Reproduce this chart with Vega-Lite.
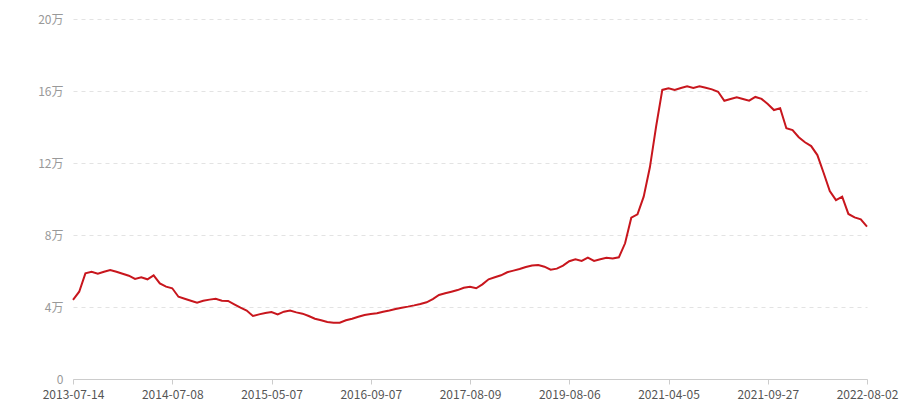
{
  "$schema": "https://vega.github.io/schema/vega-lite/v6.json",
  "width": 794,
  "height": 360,
  "autosize": {"type": "none"},
  "padding": {"left": 73, "top": 19, "right": 33, "bottom": 21},
  "background": "#ffffff",
  "config": {
    "view": {"stroke": null},
    "font": "Noto Sans CJK SC"
  },
  "data": {
    "values": [
      {"date": "2013-07-14", "value": 44000},
      {"date": "2013-08-05", "value": 48500},
      {"date": "2013-08-27", "value": 58700},
      {"date": "2013-09-18", "value": 59600},
      {"date": "2013-10-10", "value": 58500},
      {"date": "2013-11-01", "value": 59600},
      {"date": "2013-11-23", "value": 60600},
      {"date": "2013-12-15", "value": 59600},
      {"date": "2014-01-06", "value": 58500},
      {"date": "2014-01-28", "value": 57400},
      {"date": "2014-02-19", "value": 55600},
      {"date": "2014-03-13", "value": 56500},
      {"date": "2014-04-04", "value": 55400},
      {"date": "2014-04-26", "value": 57600},
      {"date": "2014-05-18", "value": 53100},
      {"date": "2014-06-10", "value": 51300},
      {"date": "2014-07-08", "value": 50400},
      {"date": "2014-07-27", "value": 45700},
      {"date": "2014-08-15", "value": 44600},
      {"date": "2014-09-03", "value": 43500},
      {"date": "2014-09-22", "value": 42400},
      {"date": "2014-10-11", "value": 43500},
      {"date": "2014-10-30", "value": 44100},
      {"date": "2014-11-18", "value": 44600},
      {"date": "2014-12-07", "value": 43500},
      {"date": "2014-12-26", "value": 43400},
      {"date": "2015-01-14", "value": 41500},
      {"date": "2015-02-02", "value": 39600},
      {"date": "2015-02-21", "value": 38000},
      {"date": "2015-03-12", "value": 35000},
      {"date": "2015-03-31", "value": 35900},
      {"date": "2015-04-19", "value": 36700},
      {"date": "2015-05-07", "value": 37200},
      {"date": "2015-06-07", "value": 35900},
      {"date": "2015-07-08", "value": 37400},
      {"date": "2015-08-08", "value": 38000},
      {"date": "2015-09-08", "value": 37000},
      {"date": "2015-10-09", "value": 36300},
      {"date": "2015-11-09", "value": 35000},
      {"date": "2015-12-10", "value": 33500},
      {"date": "2016-01-10", "value": 32600},
      {"date": "2016-02-10", "value": 31700},
      {"date": "2016-03-12", "value": 31300},
      {"date": "2016-04-12", "value": 31300},
      {"date": "2016-05-13", "value": 32600},
      {"date": "2016-06-13", "value": 33500},
      {"date": "2016-07-14", "value": 34600},
      {"date": "2016-08-14", "value": 35600},
      {"date": "2016-09-07", "value": 36100},
      {"date": "2016-09-28", "value": 36500},
      {"date": "2016-10-19", "value": 37400},
      {"date": "2016-11-09", "value": 38100},
      {"date": "2016-11-30", "value": 38900},
      {"date": "2016-12-21", "value": 39600},
      {"date": "2017-01-11", "value": 40200},
      {"date": "2017-02-01", "value": 40900},
      {"date": "2017-02-22", "value": 41700},
      {"date": "2017-03-15", "value": 42600},
      {"date": "2017-04-05", "value": 44400},
      {"date": "2017-04-26", "value": 46700},
      {"date": "2017-05-17", "value": 47600},
      {"date": "2017-06-07", "value": 48500},
      {"date": "2017-06-28", "value": 49400},
      {"date": "2017-07-19", "value": 50700},
      {"date": "2017-08-09", "value": 51300},
      {"date": "2017-09-23", "value": 50400},
      {"date": "2017-11-07", "value": 52600},
      {"date": "2017-12-22", "value": 55400},
      {"date": "2018-02-05", "value": 56500},
      {"date": "2018-03-22", "value": 57600},
      {"date": "2018-05-06", "value": 59300},
      {"date": "2018-06-20", "value": 60200},
      {"date": "2018-08-04", "value": 61100},
      {"date": "2018-09-18", "value": 62200},
      {"date": "2018-11-02", "value": 63000},
      {"date": "2018-12-17", "value": 63300},
      {"date": "2019-01-31", "value": 62400},
      {"date": "2019-03-17", "value": 60700},
      {"date": "2019-05-01", "value": 61300},
      {"date": "2019-06-15", "value": 63000},
      {"date": "2019-08-06", "value": 65400},
      {"date": "2019-09-13", "value": 66500},
      {"date": "2019-10-21", "value": 65600},
      {"date": "2019-11-28", "value": 67400},
      {"date": "2020-01-05", "value": 65600},
      {"date": "2020-02-12", "value": 66500},
      {"date": "2020-03-21", "value": 67400},
      {"date": "2020-04-28", "value": 67000},
      {"date": "2020-06-05", "value": 67600},
      {"date": "2020-07-13", "value": 75400},
      {"date": "2020-08-20", "value": 89600},
      {"date": "2020-09-27", "value": 91500},
      {"date": "2020-11-04", "value": 101300},
      {"date": "2020-12-12", "value": 117600},
      {"date": "2021-01-19", "value": 140200},
      {"date": "2021-02-26", "value": 160600},
      {"date": "2021-04-05", "value": 161500},
      {"date": "2021-04-16", "value": 160600},
      {"date": "2021-04-27", "value": 161700},
      {"date": "2021-05-08", "value": 162600},
      {"date": "2021-05-19", "value": 161700},
      {"date": "2021-05-30", "value": 162600},
      {"date": "2021-06-10", "value": 161800},
      {"date": "2021-06-21", "value": 160900},
      {"date": "2021-07-02", "value": 159600},
      {"date": "2021-07-13", "value": 154600},
      {"date": "2021-07-24", "value": 155600},
      {"date": "2021-08-04", "value": 156500},
      {"date": "2021-08-15", "value": 155600},
      {"date": "2021-08-26", "value": 154600},
      {"date": "2021-09-06", "value": 156700},
      {"date": "2021-09-17", "value": 155600},
      {"date": "2021-09-27", "value": 152800},
      {"date": "2021-10-16", "value": 149400},
      {"date": "2021-11-04", "value": 150400},
      {"date": "2021-11-23", "value": 139300},
      {"date": "2021-12-12", "value": 138300},
      {"date": "2021-12-31", "value": 134300},
      {"date": "2022-01-19", "value": 131500},
      {"date": "2022-02-07", "value": 129400},
      {"date": "2022-02-26", "value": 124400},
      {"date": "2022-03-17", "value": 114600},
      {"date": "2022-04-05", "value": 104400},
      {"date": "2022-04-24", "value": 99400},
      {"date": "2022-05-13", "value": 101300},
      {"date": "2022-06-01", "value": 91700},
      {"date": "2022-06-20", "value": 89800},
      {"date": "2022-07-09", "value": 88700},
      {"date": "2022-08-02", "value": 84600}
    ]
  },
  "mark": {"type": "line", "color": "#c8161d", "strokeWidth": 2, "interpolate": "linear"},
  "encoding": {
    "x": {
      "field": "date",
      "type": "ordinal",
      "sort": null,
      "scale": {"type": "point", "padding": 0},
      "axis": {
        "title": null,
        "values": ["2013-07-14", "2014-07-08", "2015-05-07", "2016-09-07", "2017-08-09", "2019-08-06", "2021-04-05", "2021-09-27", "2022-08-02"],
        "labelAngle": 0,
        "labelColor": "#555555",
        "labelFontSize": 12,
        "labelPadding": 5,
        "domainColor": "#cccccc",
        "tickColor": "#cccccc",
        "tickSize": 5,
        "grid": false,
        "labelOverlap": false
      }
    },
    "y": {
      "field": "value",
      "type": "quantitative",
      "scale": {"domain": [0, 200000], "nice": false},
      "axis": {
        "title": null,
        "values": [0, 40000, 80000, 120000, 160000, 200000],
        "labelExpr": "datum.value == 0 ? '0' : (datum.value / 10000) + '万'",
        "labelColor": "#999999",
        "labelFontSize": 12,
        "labelPadding": 10,
        "domain": false,
        "ticks": false,
        "grid": true,
        "gridColor": "#e3e3e3",
        "gridDash": [4, 4],
        "gridWidth": 1
      }
    }
  }
}
